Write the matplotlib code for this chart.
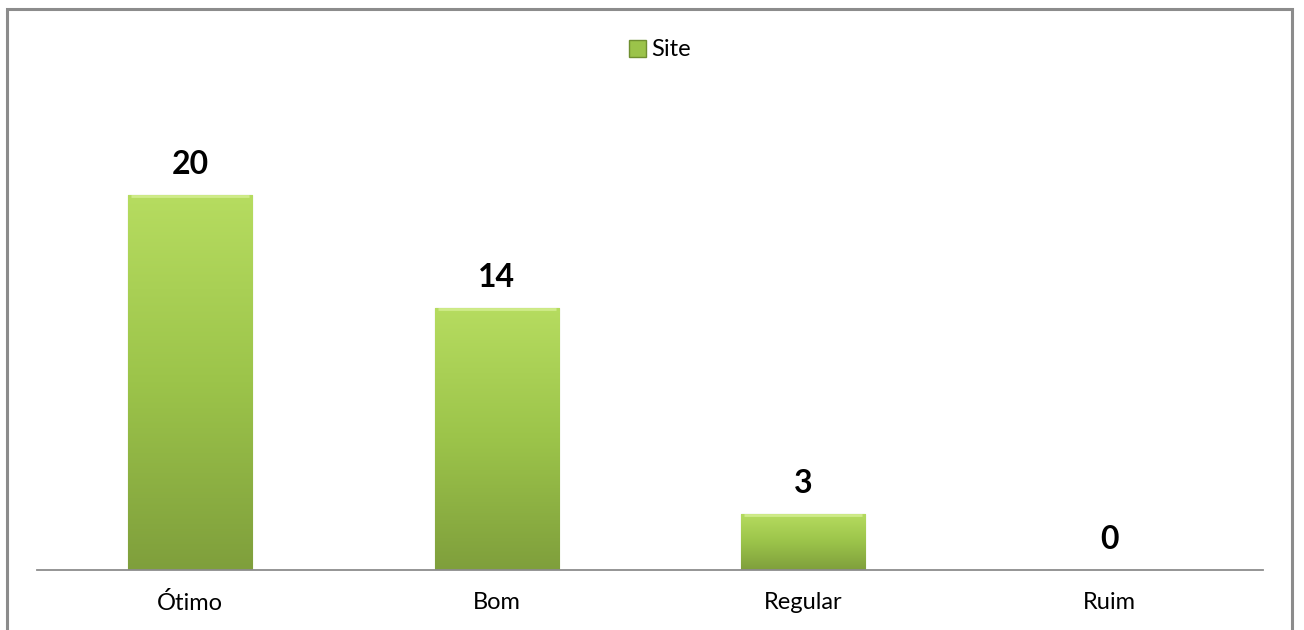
import numpy as np
import matplotlib.pyplot as plt
from matplotlib.patches import Rectangle
from matplotlib.colors import LinearSegmentedColormap

categories = ['Ótimo', 'Bom', 'Regular', 'Ruim']
values = [20, 14, 3, 0]
series_name = 'Site'

plt.rcParams['font.family'] = ['Lato', 'DejaVu Sans']

fig = plt.figure(figsize=(13.04, 6.3), dpi=100)
ax = fig.add_axes([37 / 1304, 60 / 630, 1226 / 1304, 450 / 630])

# outer chart border (cut off at the bottom like the reference)
fig.patches.append(Rectangle((7 / 1304, -0.05), 1285 / 1304, 1.05 - 9 / 630,
                             transform=fig.transFigure, fill=False,
                             edgecolor='#8c8c8c', lw=2.2, zorder=0))

green_cmap = LinearSegmentedColormap.from_list('g', ['#7f9f3c', '#9cc44a', '#b6dc60'])
grad = np.linspace(0, 1, 256).reshape(-1, 1)

x = np.arange(len(categories))
width = 0.405
bars = ax.bar(x, values, width, color='#9bc34a', edgecolor='#7a9a38', lw=0.8,
              label=series_name, zorder=2)
for b, v in zip(bars, values):
    x0, y0 = b.get_x(), b.get_y()
    if v > 0:
        im = ax.imshow(grad, cmap=green_cmap, origin='lower', aspect='auto',
                       extent=(x0, x0 + b.get_width(), y0, y0 + b.get_height()), zorder=2.5)
        im.set_clip_path(b)
        # bevel highlight on top edge
        ax.plot([x0 + 0.01, x0 + b.get_width() - 0.01], [v - 0.08, v - 0.08],
                color='#cfeb8a', lw=2, zorder=3, solid_capstyle='butt')
    ax.text(x0 + b.get_width() / 2, v + 0.85, str(v), ha='center', va='bottom',
            fontsize=23, fontweight='bold', color='black', zorder=4)

ax.set_xlim(-0.5, len(categories) - 0.5)
ax.set_ylim(0, 24)
ax.set_xticks(x)
ax.set_xticklabels(categories, fontsize=17)
ax.tick_params(axis='x', length=0, pad=16)
ax.set_yticks([])
for s in ['top', 'right', 'left']:
    ax.spines[s].set_visible(False)
ax.spines['bottom'].set_color('#8c8c8c')
ax.spines['bottom'].set_linewidth(1.3)
ax.spines['bottom'].set_zorder(5)

leg = fig.legend(handles=[Rectangle((0, 0), 1, 1, facecolor='#9bc34a', edgecolor='#6f8f30')],
                 labels=[series_name], loc='center', bbox_to_anchor=(660 / 1304, 1 - 50 / 630),
                 frameon=False, fontsize=17, handlelength=0.7, handleheight=0.7,
                 handletextpad=0.25)

fig.savefig('out.png', dpi=100)
